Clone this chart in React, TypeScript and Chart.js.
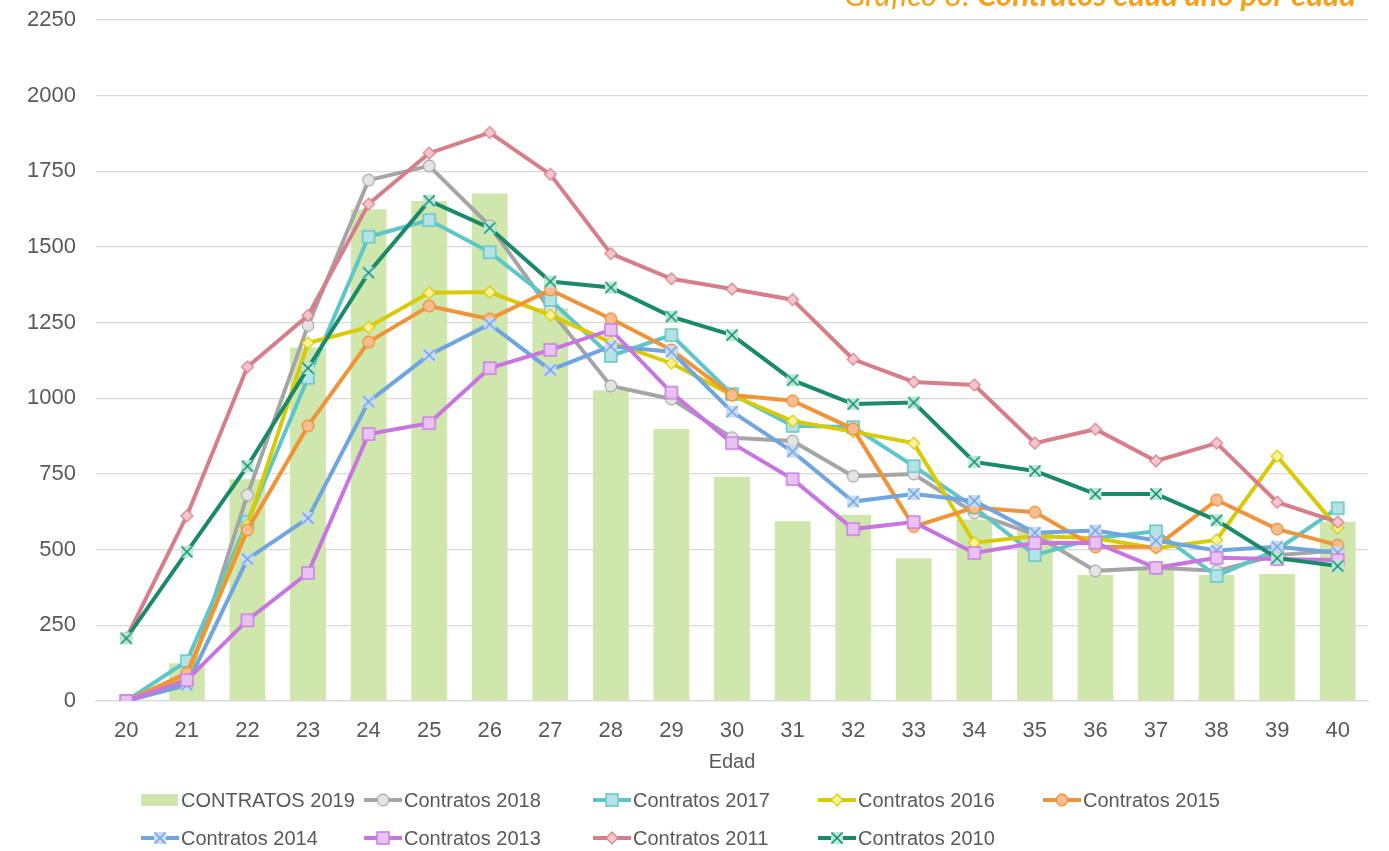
import React, { useEffect, useRef } from "react";
import { Chart, registerables } from "chart.js";

Chart.register(...registerables);

// ---------- DATA ----------
const ages = ["20","21","22","23","24","25","26","27","28","29","30","31","32","33","34","35","36","37","38","39","40"];
const contratos2019 = [0,125,733,1168,1625,1652,1677,1298,1027,899,741,594,615,472,600,560,416,440,416,420,592];
const contratos2018 = [0,60,681,1241,1721,1768,1570,1292,1041,998,870,859,743,750,621,550,430,440,430,482,497];
const contratos2017 = [0,132,592,1068,1534,1589,1483,1325,1140,1209,1014,909,905,776,640,482,538,561,413,500,637];
const contratos2016 = [0,80,580,1183,1235,1349,1351,1275,1185,1116,1010,925,890,852,523,545,538,505,532,809,572];
const contratos2015 = [0,92,565,909,1186,1305,1262,1358,1263,1160,1011,992,899,576,639,624,509,510,664,568,515];
const contratos2014 = [0,53,469,604,989,1143,1245,1094,1172,1154,956,824,659,684,661,556,563,530,497,510,490];
const contratos2013 = [0,69,267,423,882,918,1100,1160,1226,1019,852,733,568,591,489,522,523,440,473,469,466];
const contratos2011 = [208,612,1104,1274,1642,1810,1878,1740,1478,1395,1361,1326,1129,1054,1044,852,898,793,852,657,591];
const contratos2010 = [207,493,776,1100,1415,1653,1563,1386,1366,1270,1209,1060,981,986,790,760,684,684,597,472,446];

const yTicksMax = 2250;
const yTicksStep = 250;
const titleLight = "Gráfico 8: ";
const titleBold = "Contratos edad año por edad";
const xTitle = "Edad";

// ---------- STYLES ----------
const FONT = "'Liberation Sans', Arial, sans-serif";
const TEXT = "#595959";

type Kind = "circle" | "square" | "diamond" | "cross";

function makeMarker(kind: Kind, fill: string, stroke: string): HTMLCanvasElement {
  const s = 18;
  const c = document.createElement("canvas");
  c.width = s;
  c.height = s;
  const g = c.getContext("2d")!;
  const m = s / 2;
  g.fillStyle = fill;
  g.strokeStyle = stroke;
  g.lineWidth = 1.2;
  if (kind === "circle") {
    g.beginPath();
    g.arc(m, m, 5.8, 0, Math.PI * 2);
    g.fill();
    g.stroke();
  } else if (kind === "square") {
    g.fillRect(2.5, 2.5, 13, 13);
    g.strokeRect(3, 3, 12, 12);
  } else if (kind === "diamond") {
    g.beginPath();
    g.moveTo(m, 3);
    g.lineTo(15, m);
    g.lineTo(m, 15);
    g.lineTo(3, m);
    g.closePath();
    g.fill();
    g.stroke();
  } else {
    g.fillRect(3, 3, 12, 12);
    g.lineWidth = 1.5;
    g.beginPath();
    g.moveTo(3.5, 3.5);
    g.lineTo(14.5, 14.5);
    g.moveTo(14.5, 3.5);
    g.lineTo(3.5, 14.5);
    g.stroke();
  }
  return c;
}

const lineSeries = [
  { label: "Contratos 2018", data: contratos2018, color: "#A5A5A5", kind: "circle" as Kind, fill: "#E4E4E4", stroke: "#A9A9A9" },
  { label: "Contratos 2017", data: contratos2017, color: "#5EC6C9", kind: "square" as Kind, fill: "#B3E3E4", stroke: "#52BEC2" },
  { label: "Contratos 2016", data: contratos2016, color: "#D8CB05", kind: "diamond" as Kind, fill: "#F8F29A", stroke: "#D8CB05" },
  { label: "Contratos 2015", data: contratos2015, color: "#F0943A", kind: "circle" as Kind, fill: "#F8BC8E", stroke: "#EE8E38" },
  { label: "Contratos 2014", data: contratos2014, color: "#71A5DF", kind: "cross" as Kind, fill: "#C9DCF4", stroke: "#6FA3DE" },
  { label: "Contratos 2013", data: contratos2013, color: "#C875E2", kind: "square" as Kind, fill: "#E8C2F3", stroke: "#C36FDE" },
  { label: "Contratos 2011", data: contratos2011, color: "#D77E8B", kind: "diamond" as Kind, fill: "#F3C6CE", stroke: "#D87F8C" },
  { label: "Contratos 2010", data: contratos2010, color: "#1B8A6B", kind: "cross" as Kind, fill: "#B6EBD9", stroke: "#1B8A6B" },
];
const barLabel = "CONTRATOS 2019";
const barColor = "#CFE6AD";

export default function App() {
  const ref = useRef<HTMLCanvasElement | null>(null);

  useEffect(() => {
    if (!ref.current) return;
    const markers = lineSeries.map((s) => makeMarker(s.kind, s.fill, s.stroke));

    const overlay = {
      id: "overlay",
      afterDraw(chart: any) {
        const ctx = chart.ctx as CanvasRenderingContext2D;
        ctx.save();
        // Title (cropped at top as in reference)
        const size = 31;
        ctx.textBaseline = "alphabetic";
        ctx.fillStyle = "#F7A01B";
        ctx.font = `italic bold ${size}px Lato, 'DejaVu Sans', sans-serif`;
        const wb = ctx.measureText(titleBold).width;
        ctx.font = `italic ${size}px Lato, 'DejaVu Sans', sans-serif`;
        const wl = ctx.measureText(titleLight).width;
        const right = 1356;
        const baseY = 6;
        ctx.textAlign = "left";
        ctx.fillText(titleLight, right - wb - wl, baseY);
        ctx.font = `italic bold ${size}px Lato, 'DejaVu Sans', sans-serif`;
        ctx.fillText(titleBold, right - wb, baseY);

        // Legend
        const cols = [139, 362, 591, 816, 1041];
        const rows = [800, 838];
        const items: any[] = [{ type: "bar", label: barLabel }];
        lineSeries.forEach((s, i) => items.push({ type: "line", label: s.label, color: s.color, marker: markers[i] }));
        ctx.font = `20px ${FONT}`;
        ctx.textBaseline = "middle";
        ctx.textAlign = "left";
        items.forEach((it, i) => {
          const r = i < 5 ? 0 : 1;
          const c = i < 5 ? i : i - 5;
          const x0 = cols[c];
          const y = rows[r];
          if (it.type === "bar") {
            ctx.fillStyle = barColor;
            ctx.fillRect(x0 + 2, y - 6, 37, 12);
          } else {
            ctx.strokeStyle = it.color;
            ctx.lineWidth = 4;
            ctx.beginPath();
            ctx.moveTo(x0 + 2, y);
            ctx.lineTo(x0 + 40, y);
            ctx.stroke();
            ctx.drawImage(it.marker, x0 + 21 - 9, y - 9);
          }
          ctx.fillStyle = TEXT;
          ctx.fillText(it.label, x0 + 42, y + 1);
        });
        ctx.restore();
      },
    };

    const chart = new Chart(ref.current, {
      type: "bar",
      data: {
        labels: ages,
        datasets: [
          {
            type: "bar",
            label: barLabel,
            data: contratos2019,
            backgroundColor: barColor,
            borderWidth: 0,
            barPercentage: 0.59,
            categoryPercentage: 1,
            order: 20,
          } as any,
          ...lineSeries.map((s, i) => ({
            type: "line",
            label: s.label,
            data: s.data,
            borderColor: s.color,
            backgroundColor: s.color,
            borderWidth: 4,
            tension: 0,
            fill: false,
            pointStyle: markers[i],
            pointRadius: 6,
            order: 9 - i,
          })),
        ],
      },
      options: {
        responsive: false,
        maintainAspectRatio: false,
        animation: false,
        devicePixelRatio: 1,
        events: [],
        layout: { autoPadding: false, padding: { left: 0, right: 21, top: 20, bottom: 77 } },
        plugins: {
          legend: { display: false },
          tooltip: { enabled: false },
          title: { display: false },
        },
        scales: {
          x: {
            grid: { display: false, drawTicks: false },
            border: { color: "#D9D9D9", width: 1.3 },
            ticks: { font: { family: FONT, size: 22 }, color: TEXT, padding: 17, maxRotation: 0 },
            title: { display: true, text: xTitle, font: { family: FONT, size: 20 }, color: TEXT, padding: 0 },
            afterFit: (s: any) => {
              s.height = 73;
            },
          },
          y: {
            min: 0,
            max: yTicksMax,
            ticks: {
              stepSize: yTicksStep,
              font: { family: FONT, size: 22 },
              color: TEXT,
              padding: 20,
              callback: (v: any) => String(v),
            },
            grid: { color: "#D9D9D9", lineWidth: 1.3, drawTicks: false },
            border: { display: false },
            afterFit: (s: any) => {
              s.width = 96;
              s.paddingTop = 0;
              s.paddingBottom = 0;
            },
          },
        },
      },
      plugins: [overlay],
    } as any);

    return () => chart.destroy();
  }, []);

  return (
    <div style={{ position: "fixed", left: 0, top: 0, width: 1389, height: 851, background: "#fff" }}>
      <canvas ref={ref} width={1389} height={851} style={{ display: "block" }} />
    </div>
  );
}
